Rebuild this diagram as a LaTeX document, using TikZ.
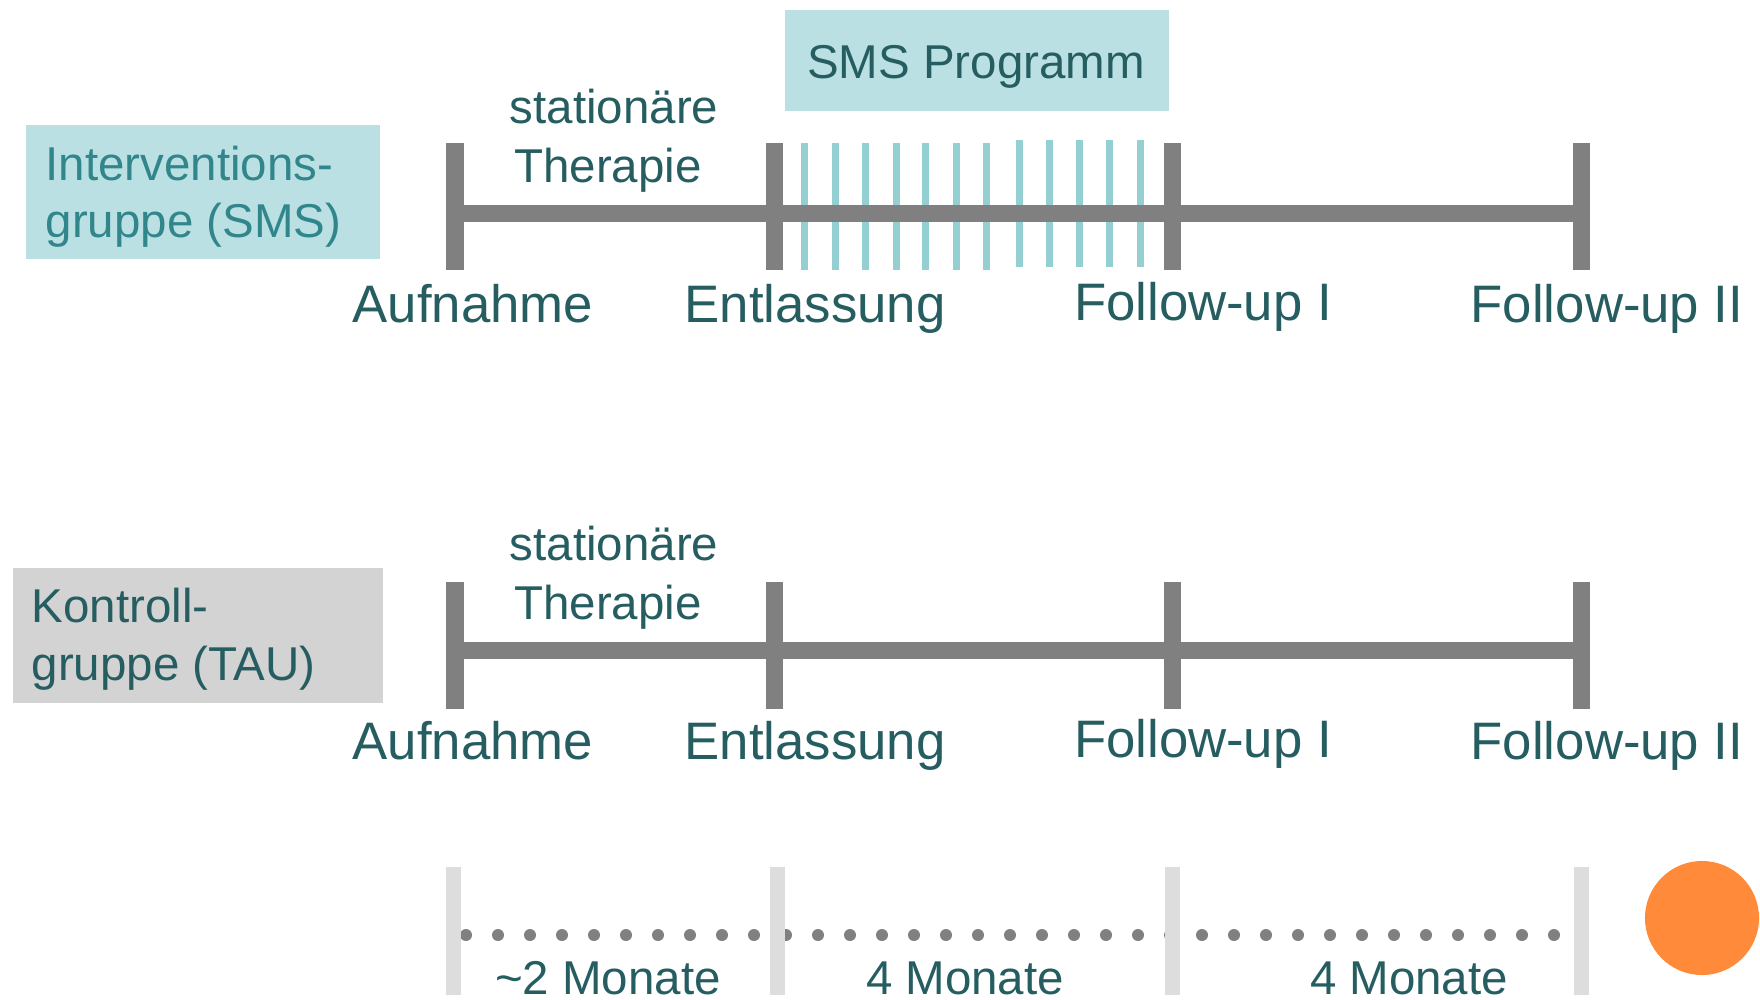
\documentclass[tikz,border=0pt]{standalone}
\usepackage{fontspec}
\setmainfont{Liberation Sans}
\usetikzlibrary{positioning}

\definecolor{boxblue}{HTML}{BBE0E3}
\definecolor{boxgrey}{HTML}{D3D3D3}
\definecolor{tealtxt}{HTML}{31868B}
\definecolor{darktxt}{HTML}{255D61}
\definecolor{linegrey}{HTML}{808080}
\definecolor{smsline}{HTML}{94CFD2}
\definecolor{scalegrey}{HTML}{DDDDDD}
\definecolor{markorange}{HTML}{FF8A3A}

\begin{document}
\begin{tikzpicture}[x=0.01cm, y=-0.01cm,
	lbl/.style={text=darktxt, font=\fontsize{15pt}{18pt}\selectfont, anchor=base, inner sep=0pt},
	small/.style={text=darktxt, font=\fontsize{13.5pt}{16pt}\selectfont, anchor=base, inner sep=0pt},
	grpbox/.style={anchor=north west, inner sep=0pt, draw=none},
	axis/.style={draw=linegrey, line width=0.17cm},
	smstick/.style={draw=smsline, line width=0.07cm},
	scaletick/.style={draw=scalegrey, line width=0.15cm},
]
\useasboundingbox (0,0) rectangle (1760,999);
%
% group boxes
\node [grpbox, fill=boxblue, minimum width=3.54cm, minimum height=1.34cm] (igrp) at (25,124) {};
\node [small, anchor=base west, text=tealtxt] (itxt1) at (45,180) {Interventions-};
\node [small, anchor=base west, text=tealtxt] (itxt2) at (45,237) {gruppe (SMS)};
\node [grpbox, fill=boxgrey, minimum width=3.70cm, minimum height=1.35cm] (kgrp) at (12,567) {};
\node [small, anchor=base west] (ktxt1) at (31,622) {Kontroll-};
\node [small, anchor=base west] (ktxt2) at (31,680) {gruppe (TAU)};
\node [grpbox, fill=boxblue, minimum width=3.84cm, minimum height=1.01cm] (smsbox) at (784,9) {};
\node [small] (smstxt) at (976,78) {SMS Programm};
%
% SMS messages
\foreach \x in {804,835,865,896,925,956,986}
	\draw [smstick] (\x,143) -- (\x,270);
\foreach \x in {1019,1049,1079,1109,1140}
	\draw [smstick] (\x,140) -- (\x,267);
%
% intervention timeline
\coordinate (a1) at (455,213.5);
\coordinate (e1) at (774,213.5);
\coordinate (f1) at (1172,213.5);
\coordinate (g1) at (1581,213.5);
\draw [axis] (a1) -- (g1);
\foreach \c in {a1,e1,f1,g1}
	\draw [axis] ([yshift=0.705cm]\c) -- ([yshift=-0.565cm]\c);
\node [small] (stat1) at (614,123) {stationäre};
\node [small] (ther1) at (608,182) {Therapie};
\node [lbl] (aufn1) at (473,322) {Aufnahme};
\node [lbl] (entl1) at (815,322) {Entlassung};
\node [lbl] (fu1a)  at (1203,320) {Follow-up I};
\node [lbl] (fu2a)  at (1607,322) {Follow-up II};
%
% control timeline
\coordinate (a2) at (455,650.5);
\coordinate (e2) at (774,650.5);
\coordinate (f2) at (1172,650.5);
\coordinate (g2) at (1581,650.5);
\draw [axis] (a2) -- (g2);
\foreach \c in {a2,e2,f2,g2}
	\draw [axis] ([yshift=0.685cm]\c) -- ([yshift=-0.585cm]\c);
\node [small] (stat2) at (614,560) {stationäre};
\node [small] (ther2) at (608,619) {Therapie};
\node [lbl] (aufn2) at (473,759) {Aufnahme};
\node [lbl] (entl2) at (815,759) {Entlassung};
\node [lbl] (fu1b)  at (1203,757) {Follow-up I};
\node [lbl] (fu2b)  at (1607,759) {Follow-up II};
%
% time scale
\foreach \k in {0,...,34}
	\fill [linegrey] (466+32*\k,935) circle [radius=0.06cm];
\foreach \x in {453,777,1172,1581}
	\draw [scaletick] (\x,867) -- (\x,995);
\node [small] (m1) at (608,994) {\textasciitilde 2 Monate};
\node [small] (m2) at (965,994) {4 Monate};
\node [small] (m3) at (1409,994) {4 Monate};
\node [circle, fill=markorange, minimum size=1.14cm, inner sep=0pt] (mark) at (1702,918) {};
\end{tikzpicture}
\end{document}
